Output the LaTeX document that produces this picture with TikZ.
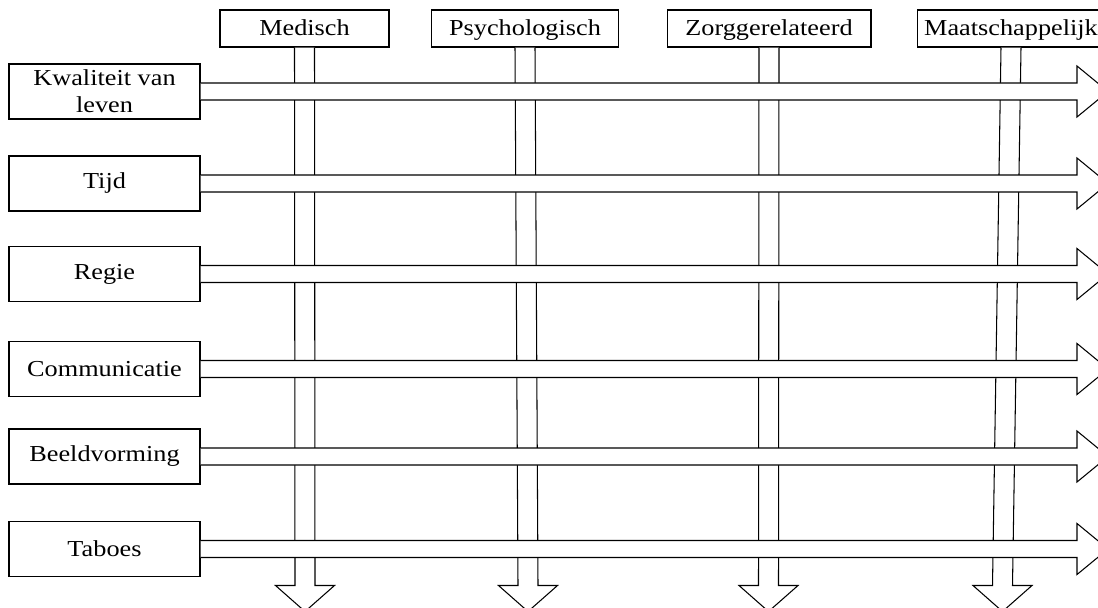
\documentclass[tikz,border=0pt]{standalone}
\usepackage{fontspec}
\setmainfont{Liberation Serif}[FakeStretch=1.15]
\usepackage{tikz}
\usetikzlibrary{calc}

% block arrows, drawn as one outline from a node anchor to the base of the head
\newcommand{\hblock}[2]{%
  \filldraw[blockarrow] ($(#1)+(0,-8.5)$) -- ($(#2)+(0,-8.5)$) -- ($(#2)+(0,-25.5)$)
    -- ($(#2)+(31,0)$) -- ($(#2)+(0,25.5)$) -- ($(#2)+(0,8.5)$) -- ($(#1)+(0,8.5)$);}
\newcommand{\vblock}[2]{%
  \filldraw[blockarrow] ($(#1)+(-10,0)$) -- ($(#2)+(-10,0)$) -- ($(#2)+(-29.5,0)$)
    -- ($(#2)+(0,26)$) -- ($(#2)+(29.5,0)$) -- ($(#2)+(10,0)$) -- ($(#1)+(10,0)$);}

\begin{document}
\begin{tikzpicture}[
  x=0.02cm, y=-0.02cm,
  themebox/.style={draw, fill=white, line width=0.6pt, minimum width=3.82cm,
                minimum height=1.1cm, align=center, inner sep=2pt},
  dombox/.style={draw, fill=white, line width=0.6pt, minimum height=0.74cm, inner sep=1pt,
                 text height=11.4pt, text depth=3pt},
  blockarrow/.style={draw=black, fill=white, line width=0.6pt, line join=miter},
  font=\fontsize{13}{15.4}\selectfont
]
\useasboundingbox (0,0) rectangle (1098,608);
\clip (0,0) rectangle (1098,608);

% Domains
\node[dombox, minimum width=3.38cm] (medisch) at (304.5, 28.5) {Medisch};
\node[dombox, minimum width=3.74cm] (psych) at (525, 28.5) {Psychologisch};
\node[dombox, minimum width=4.08cm] (zorg) at (769, 28.5) {Zorggerelateerd};
\node[dombox, minimum width=3.76cm] (maatsch) at (1011, 28.5) {Maatschappelijk};

\coordinate (medisch-end) at (305, 585.5);
\coordinate (psych-end) at (528, 585.5);
\coordinate (zorg-end) at (768.5, 585.5);
\coordinate (maatsch-end) at (1002.5, 585.5);

\vblock{medisch.south}{medisch-end}
\vblock{psych.south}{psych-end}
\vblock{zorg.south}{zorg-end}
\vblock{maatsch.south}{maatsch-end}

% Themes
\node[themebox] (kwaliteit) at (104.5, 91.5) {Kwaliteit van\\leven};
\node[themebox] (tijd) at (104.5, 183.5) {Tijd};
\node[themebox] (regie) at (104.5, 274) {Regie};
\node[themebox] (communicatie) at (104.5, 369) {Communicatie};
\node[themebox] (beeldvorming) at (104.5, 456.5) {Beeldvorming};
\node[themebox] (taboes) at (104.5, 549) {Taboes};

\coordinate (kwaliteit-end) at (1077, 91.5);
\coordinate (tijd-end) at (1077, 183.5);
\coordinate (regie-end) at (1077, 274);
\coordinate (communicatie-end) at (1077, 369);
\coordinate (beeldvorming-end) at (1077, 456.5);
\coordinate (taboes-end) at (1077, 549);

\hblock{kwaliteit.east}{kwaliteit-end}
\hblock{tijd.east}{tijd-end}
\hblock{regie.east}{regie-end}
\hblock{communicatie.east}{communicatie-end}
\hblock{beeldvorming.east}{beeldvorming-end}
\hblock{taboes.east}{taboes-end}

\end{tikzpicture}
\end{document}
